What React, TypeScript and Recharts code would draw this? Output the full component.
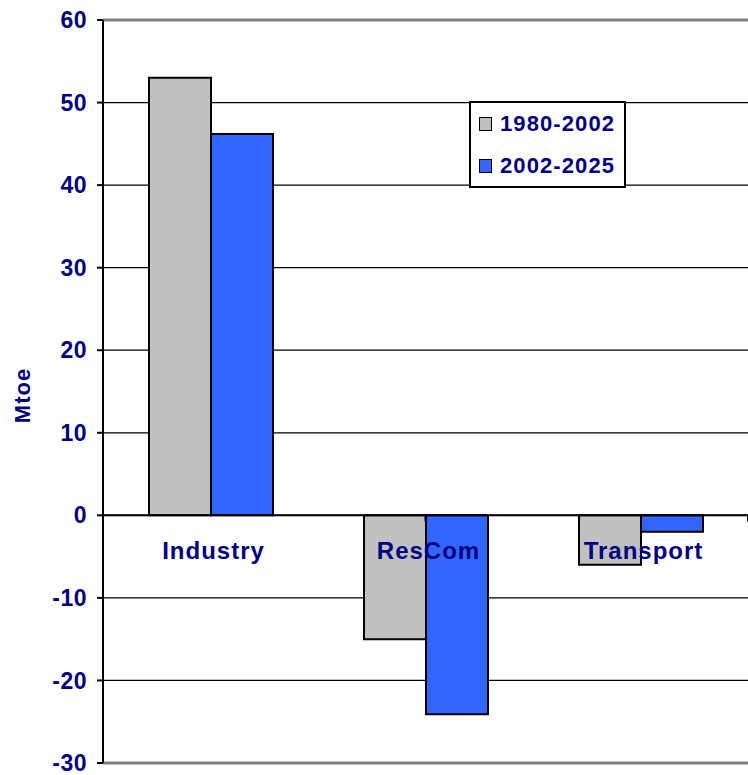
import { BarChart, Bar, XAxis, YAxis, CartesianGrid, ReferenceLine, ReferenceDot, Label } from "recharts";

const categories = ["Industry", "ResCom", "Transport"];
const period1 = [53, -15, -6];
const period2 = [46.2, -24.1, -2];
const seriesNames = ["1980-2002", "2002-2025"];
const yTicks = [-30, -20, -10, 0, 10, 20, 30, 40, 50, 60];
const boundaries = [0, 1, 2, 3];

const NAVY = "#000080";
const GRAY = "#C0C0C0";
const BLUE = "#3366FF";
const FONT = "'Liberation Sans', Arial, sans-serif";

const data = categories.map((c, i) => ({ name: c, p1: period1[i], p2: period2[i] }));

function LegendBox() {
  const items = [
    { label: seriesNames[0], color: GRAY },
    { label: seriesNames[1], color: BLUE },
  ];
  return (
    <div
      style={{
        position: "absolute",
        left: 469,
        top: 101,
        width: 157,
        height: 87,
        border: "2px solid #000",
        background: "#fff",
        boxSizing: "border-box",
        padding: "3px 0 0 8px",
        fontFamily: FONT,
        fontWeight: 700,
        fontSize: 22,
        letterSpacing: 1.1,
        color: NAVY,
      }}
    >
      {items.map((it) => (
        <div key={it.label} style={{ display: "flex", alignItems: "center", height: 35, marginBottom: 7 }}>
          <span
            style={{
              display: "inline-block",
              width: 11,
              height: 12,
              background: it.color,
              border: "1.5px solid #000",
              marginRight: 8,
            }}
          />
          <span>{it.label}</span>
        </div>
      ))}
    </div>
  );
}

export default function App() {
  return (
    <div style={{ position: "absolute", left: 0, top: 0, width: 748, height: 775, background: "#fff" }}>
      <BarChart
        width={748}
        height={775}
        data={data}
        margin={{ top: 20, right: 0, bottom: 12, left: 0 }}
        barCategoryGap={46}
        barGap={0}
      >
        <CartesianGrid vertical={false} stroke="#000" strokeOpacity={1} strokeWidth={1.3} />
        <XAxis dataKey="name" hide />
        <XAxis xAxisId="num" type="number" domain={[0, 3]} hide />
        <YAxis
          domain={[-30, 60]}
          ticks={yTicks}
          interval={0}
          width={103}
          axisLine={{ stroke: "#000", strokeWidth: 2 }}
          tickLine={{ stroke: "#000", strokeWidth: 2 }}
          tickSize={6}
          tickMargin={10}
          tick={{ fill: NAVY, fontFamily: FONT, fontWeight: 700, fontSize: 23, letterSpacing: 0.5 }}
        >
          <Label
            value="Mtoe"
            angle={-90}
            position="insideLeft"
            offset={22}
            dy={4}
            fill={NAVY}
            fontFamily={FONT}
            fontWeight={700}
            fontSize={22}
            letterSpacing={1}
            textAnchor="middle"
          />
        </YAxis>
        <Bar dataKey="p1" name={seriesNames[0]} fill={GRAY} stroke="#000" strokeWidth={2} isAnimationActive={false} />
        <Bar dataKey="p2" name={seriesNames[1]} fill={BLUE} stroke="#000" strokeWidth={2} isAnimationActive={false} />
        <ReferenceLine y={60} stroke="#808080" strokeWidth={3} />
        <ReferenceLine y={-30} stroke="#808080" strokeWidth={3} />
        <ReferenceLine y={0} stroke="#000" strokeWidth={2} />
        {boundaries.map((b) => (
          <ReferenceLine
            key={b}
            xAxisId="num"
            segment={[
              { x: b, y: 0 },
              { x: b, y: -0.75 },
            ]}
            stroke="#000"
            strokeWidth={2}
          />
        ))}
        {categories.map((c) => (
          <ReferenceDot
            key={c}
            x={c}
            y={0}
            r={0}
            fill="none"
            stroke="none"
            label={{
              value: c,
              position: "bottom",
              offset: 27,
              dx: 3,
              fill: NAVY,
              fontFamily: FONT,
              fontWeight: 700,
              fontSize: 24,
              letterSpacing: 1,
            }}
          />
        ))}
      </BarChart>
      <LegendBox />
    </div>
  );
}
